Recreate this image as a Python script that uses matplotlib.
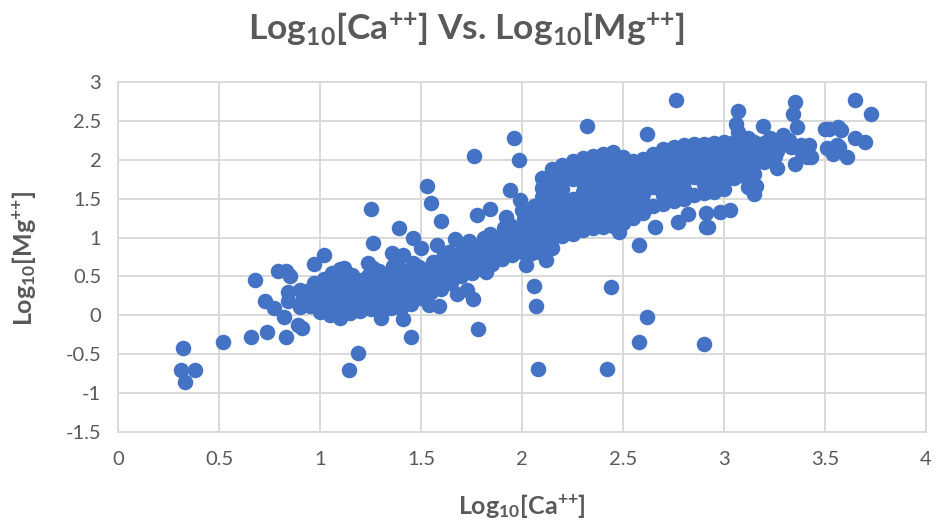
import numpy as np
import matplotlib
matplotlib.use("Agg")
import matplotlib.pyplot as plt

plt.rcParams['font.family'] = ['Lato', 'DejaVu Sans']
plt.rcParams['mathtext.fontset'] = 'custom'
plt.rcParams['mathtext.rm'] = 'Lato'
plt.rcParams['mathtext.bf'] = 'Lato:bold'
plt.rcParams['mathtext.default'] = 'bf'

# ---------------- data ----------------
ca_sparse = [0.31, 0.32, 0.33, 0.38, 0.52, 0.66, 0.74, 0.83, 0.91, 0.89, 0.68, 0.79, 0.83, 0.85,
             0.73, 0.77, 0.82, 0.84, 0.84, 0.90, 0.95, 0.90, 0.91, 0.93,
             1.145, 1.19, 1.25, 1.26, 1.39, 1.46, 1.50, 1.355, 1.41, 1.24, 1.12, 1.02, 0.97,
             1.30, 1.41, 1.45, 1.58, 1.53, 1.55, 1.60, 1.67, 1.76, 1.96, 1.985, 1.94, 1.99,
             1.775, 1.84, 1.92, 1.78, 2.08, 2.07, 2.06, 2.02, 1.54, 1.59, 1.68, 1.755, 1.73,
             1.82, 2.12, 2.42, 2.44, 2.62, 2.58, 2.90, 2.58, 2.48, 2.32, 2.62, 2.76]
mg_sparse = [-0.70, -0.42, -0.86, -0.70, -0.34, -0.28, -0.22, -0.28, -0.16, -0.13, 0.45, 0.57, 0.57, 0.51,
             0.19, 0.09, -0.02, 0.30, 0.19, 0.11, 0.32, 0.32, 0.18, 0.28,
             -0.70, -0.49, 1.37, 0.93, 1.12, 1.00, 0.87, 0.80, 0.78, 0.67, 0.61, 0.77, 0.66,
             -0.04, -0.05, -0.28, 0.90, 1.66, 1.44, 1.21, 0.98, 2.05, 2.28, 2.00, 1.61, 1.48,
             1.29, 1.37, 1.27, -0.17, -0.69, 0.12, 0.38, 0.65, 0.13, 0.12, 0.28, 0.21, 0.33,
             0.56, 0.71, -0.69, 0.37, -0.02, -0.34, -0.37, 0.90, 1.07, 2.43, 2.33, 2.77]

ca_left = [0.95, 0.96, 0.94, 0.97,
           1.00, 1.01, 0.99, 1.00, 1.02,
           1.05, 1.04, 1.06, 1.05, 1.04, 1.06,
           1.10, 1.09, 1.11, 1.10, 1.09, 1.11, 1.10,
           1.15, 1.14, 1.16, 1.15, 1.14, 1.16,
           1.20, 1.21, 1.19, 1.20, 1.21,
           1.25, 1.24, 1.26, 1.25, 1.24, 1.26,
           1.30, 1.31, 1.29, 1.30, 1.31, 1.29,
           1.35, 1.34, 1.36, 1.35, 1.34, 1.36,
           1.40, 1.41, 1.39, 1.40, 1.41, 1.39,
           1.45, 1.44, 1.46, 1.45, 1.44, 1.46,
           1.50, 1.49, 1.51, 1.50, 1.49]
mg_left = [0.12, 0.22, 0.31, 0.41,
           0.04, 0.16, 0.26, 0.36, 0.47,
           0.01, 0.11, 0.21, 0.31, 0.42, 0.55,
           -0.03, 0.08, 0.18, 0.29, 0.38, 0.49, 0.60,
           0.03, 0.13, 0.23, 0.33, 0.43, 0.52,
           0.06, 0.16, 0.26, 0.36, 0.46,
           0.08, 0.19, 0.28, 0.39, 0.50, 0.61,
           0.05, 0.15, 0.25, 0.36, 0.47, 0.57,
           0.10, 0.21, 0.30, 0.41, 0.52, 0.64,
           0.09, 0.18, 0.29, 0.38, 0.49, 0.61,
           0.14, 0.23, 0.33, 0.43, 0.55, 0.67,
           0.22, 0.31, 0.41, 0.51, 0.62]

ca_band = [1.55, 1.56, 1.54, 1.55, 1.56,
           1.60, 1.61, 1.59, 1.60, 1.61,
           1.65, 1.64, 1.66, 1.65, 1.64,
           1.70, 1.71, 1.69, 1.70, 1.71,
           1.75, 1.74, 1.76, 1.75, 1.74,
           1.80, 1.81, 1.79, 1.80, 1.81,
           1.85, 1.84, 1.86, 1.85, 1.84,
           1.90, 1.91, 1.89, 1.90, 1.91,
           1.95, 1.94, 1.96, 1.95, 1.94,
           2.00, 2.01, 1.99, 2.00, 2.01, 2.00,
           2.05, 2.04, 2.06, 2.05, 2.04, 2.06]
mg_band = [0.30, 0.40, 0.50, 0.60, 0.68,
           0.34, 0.44, 0.54, 0.64, 0.75,
           0.42, 0.52, 0.62, 0.72, 0.82,
           0.50, 0.60, 0.70, 0.80, 0.88,
           0.55, 0.65, 0.75, 0.85, 0.95,
           0.60, 0.70, 0.80, 0.90, 1.00,
           0.66, 0.76, 0.86, 0.96, 1.05,
           0.72, 0.82, 0.92, 1.02, 1.12,
           0.77, 0.87, 0.97, 1.07, 1.16,
           0.82, 0.92, 1.02, 1.12, 1.24, 1.36,
           0.80, 0.92, 1.04, 1.16, 1.28, 1.40]

ca_main = ([2.10] * 9 + [2.15] * 10 + [2.20] * 9 + [2.25] * 8 + [2.30] * 9 + [2.35] * 9 +
           [2.40] * 9 + [2.45] * 9 + [2.50] * 8 + [2.55] * 7 + [2.60] * 7 + [2.65] * 6 +
           [2.70] * 7 + [2.75] * 7 + [2.80] * 7 + [2.85] * 6 + [2.90] * 7 + [2.95] * 7 +
           [3.00] * 7 + [3.05] * 5 + [3.10] * 5 + [3.15] * 5 + [3.20] * 3 + [3.25] * 2)
mg_main = [0.80, 0.92, 1.04, 1.16, 1.28, 1.40, 1.52, 1.64, 1.76,
           0.86, 0.98, 1.10, 1.22, 1.34, 1.46, 1.58, 1.70, 1.80, 1.88,
           1.02, 1.14, 1.26, 1.38, 1.50, 1.62, 1.74, 1.85, 1.93,
           1.04, 1.16, 1.28, 1.40, 1.50, 1.75, 1.87, 1.99,
           1.10, 1.22, 1.34, 1.46, 1.58, 1.70, 1.82, 1.93, 2.02,
           1.12, 1.24, 1.36, 1.48, 1.60, 1.72, 1.84, 1.95, 2.05,
           1.14, 1.26, 1.38, 1.50, 1.62, 1.74, 1.86, 1.97, 2.08,
           1.15, 1.27, 1.39, 1.51, 1.63, 1.75, 1.87, 1.99, 2.10,
           1.19, 1.31, 1.43, 1.55, 1.67, 1.79, 1.91, 2.03,
           1.25, 1.37, 1.49, 1.61, 1.73, 1.85, 1.99,
           1.32, 1.44, 1.56, 1.68, 1.80, 1.91, 2.01,
           1.40, 1.65, 1.76, 1.87, 1.97, 2.07,
           1.43, 1.55, 1.67, 1.79, 1.91, 2.03, 2.14,
           1.47, 1.59, 1.71, 1.83, 1.95, 2.06, 2.17,
           1.50, 1.62, 1.74, 1.86, 1.98, 2.09, 2.19,
           1.55, 1.78, 1.90, 2.01, 2.11, 2.20,
           1.57, 1.69, 1.81, 1.93, 2.04, 2.13, 2.20,
           1.59, 1.71, 1.83, 1.95, 2.06, 2.15, 2.21,
           1.62, 1.74, 1.86, 1.98, 2.09, 2.18, 2.23,
           1.77, 1.89, 2.01, 2.12, 2.23,
           1.79, 1.91, 2.03, 2.14, 2.23,
           1.82, 1.94, 2.06, 2.16, 2.23,
           1.97, 2.09, 2.21,
           2.05, 2.18]

ca_right = [3.07, 3.06, 3.07, 3.195, 3.35, 3.34, 3.36, 3.65, 3.73, 3.52, 3.50, 3.565, 3.58,
            3.65, 3.70, 3.57, 3.61, 3.43, 3.42, 3.32, 3.38, 3.35, 3.26, 3.12, 3.145, 3.16,
            3.15, 3.03, 2.98, 2.91, 2.92, 3.12, 3.23, 3.26, 3.13, 3.29, 3.28, 3.33, 3.38,
            3.41, 3.51, 3.54, 3.56, 2.77, 2.82, 2.66, 2.91, 3.10]
mg_right = [2.63, 2.46, 2.36, 2.44, 2.74, 2.59, 2.42, 2.77, 2.59, 2.39, 2.40, 2.42, 2.38,
            2.28, 2.23, 2.17, 2.04, 2.04, 2.19, 2.26, 2.19, 1.94, 1.89, 1.65, 1.60, 1.66,
            1.56, 1.36, 1.33, 1.31, 1.14, 2.28, 2.28, 2.11, 1.94, 2.32, 2.23, 2.17, 2.11,
            2.04, 2.15, 2.08, 2.19, 1.20, 1.30, 1.14, 1.14, 1.83]

x_ticks = [0, 0.5, 1, 1.5, 2, 2.5, 3, 3.5, 4]
x_tick_labels = ["0", "0.5", "1", "1.5", "2", "2.5", "3", "3.5", "4"]
y_ticks = [-1.5, -1, -0.5, 0, 0.5, 1, 1.5, 2, 2.5, 3]
y_tick_labels = ["-1.5", "-1", "-0.5", "0", "0.5", "1", "1.5", "2", "2.5", "3"]

title = "Log$_{10}$[Ca$^{{+}{+}}$] Vs. Log$_{10}$[Mg$^{{+}{+}}$]"
x_label = "Log$_{10}$[Ca$^{{+}{+}}$]"
y_label = "Log$_{10}$[Mg$^{{+}{+}}$]"

# ---------------- plotting ----------------
ca = np.concatenate([ca_sparse, ca_left, ca_band, ca_main, ca_right])
mg = np.concatenate([mg_sparse, mg_left, mg_band, mg_main, mg_right])

text_gray = "#595959"
grid_gray = "#d9d9d9"
blue = "#4472C4"

fig = plt.figure(figsize=(9.36, 5.31), dpi=100)
ax = fig.add_axes([118 / 936, 1 - 432 / 531, (926 - 118) / 936, (432 - 82) / 531])

ax.scatter(ca, mg, s=125, color=blue, linewidths=0, zorder=3)

ax.set_xlim(0, 4)
ax.set_ylim(-1.5, 3)
ax.set_xticks(x_ticks)
ax.set_xticklabels(x_tick_labels)
ax.set_yticks(y_ticks)
ax.set_yticklabels(y_tick_labels)
ax.grid(True, color=grid_gray, linewidth=1.4, zorder=0)
ax.set_axisbelow(True)
for sp in ax.spines.values():
    sp.set_color(grid_gray)
    sp.set_linewidth(1.4)
ax.tick_params(axis='both', length=0, labelsize=14.5, labelcolor=text_gray)
ax.tick_params(axis='x', pad=14)
ax.tick_params(axis='y', pad=12)

fig.text(467 / 936, 1 - 30 / 531, title, ha='center', va='center',
         fontsize=25.5, color=text_gray, fontweight='bold')
fig.text(522 / 936, 1 - 506 / 531, x_label, ha='center', va='center',
         fontsize=18, color=text_gray, fontweight='bold')
fig.text(24 / 936, 1 - 258 / 531, y_label, ha='center', va='center', rotation=90,
         fontsize=18, color=text_gray, fontweight='bold')

fig.savefig("out.png", dpi=100, facecolor="white")
